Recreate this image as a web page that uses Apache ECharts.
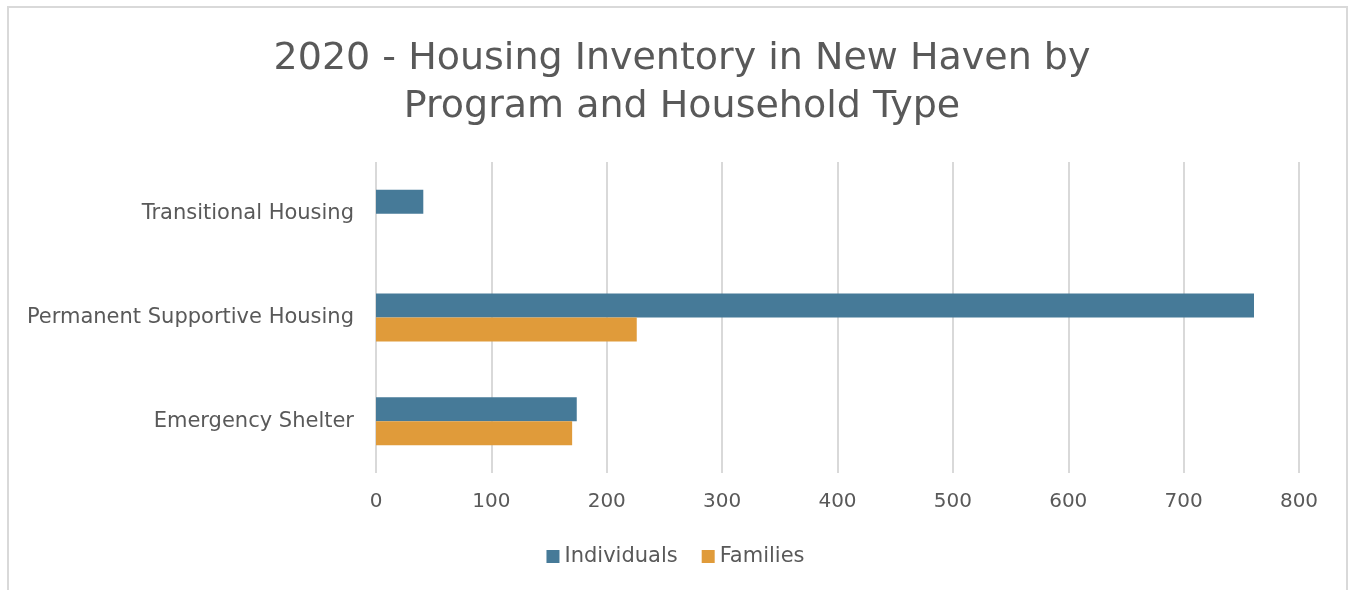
<!DOCTYPE html>
<html>
<head>
<meta charset="utf-8">
<script src="https://cdn.jsdelivr.net/npm/echarts@6/dist/echarts.min.js"></script>
<style>
  html, body { margin: 0; padding: 0; background: #fff; }
  #chart { width: 1351px; height: 590px; }
</style>
</head>
<body>
<div id="chart"></div>
<script>
// categories bottom -> top (category axis on y starts at the bottom)
const categories = ['Emergency Shelter', 'Permanent Supportive Housing', 'Transitional Housing']
const individuals = [174, 761, 41]
const families = [170, 226, null]
const xTicks = { min: 0, max: 800, interval: 100 }

const ink = '#595959'
const font = 'DejaVu Sans, Verdana, sans-serif'

const chart = echarts.init(document.getElementById('chart'))

chart.setOption({
  animation: false,
  title: {
    text: '2020 - Housing Inventory in New Haven by\nProgram and Household Type',
    left: 677,
    top: 30,
    textAlign: 'center',
    textStyle: { color: ink, fontFamily: font, fontSize: 38, fontWeight: 'normal', lineHeight: 48, align: 'center' }
  },
  legend: {
    bottom: 18,
    left: 'center',
    itemWidth: 13,
    itemHeight: 13,
    itemGap: 24,
    icon: 'rect',
    textStyle: { color: ink, fontFamily: font, fontSize: 21 },
    data: ['Individuals', 'Families']
  },
  grid: { left: 376, right: 52, top: 162, bottom: 117, containLabel: false },
  xAxis: {
    type: 'value',
    min: xTicks.min,
    max: xTicks.max,
    interval: xTicks.interval,
    axisLine: { show: false },
    axisTick: { show: false },
    splitLine: { lineStyle: { color: '#d9d9d9', width: 2 } },
    axisLabel: { color: ink, fontFamily: font, fontSize: 20, margin: 19 }
  },
  yAxis: {
    type: 'category',
    data: categories,
    axisLine: { show: false },
    axisTick: { show: false },
    axisLabel: { color: ink, fontFamily: font, fontSize: 21, margin: 22 }
  },
  graphic: [{
    type: 'rect',
    shape: { x: 8, y: 7, width: 1339, height: 600 },
    style: { fill: 'none', stroke: '#d9d9d9', lineWidth: 2 },
    silent: true
  }],
  series: [
    {
      name: 'Individuals',
      type: 'bar',
      data: individuals,
      barWidth: 24,
      barGap: '0%',
      itemStyle: { color: '#467a98' }
    },
    {
      name: 'Families',
      type: 'bar',
      data: families,
      barWidth: 24,
      barGap: '0%',
      itemStyle: { color: '#e09b3a' }
    }
  ]
})
</script>
</body>
</html>
